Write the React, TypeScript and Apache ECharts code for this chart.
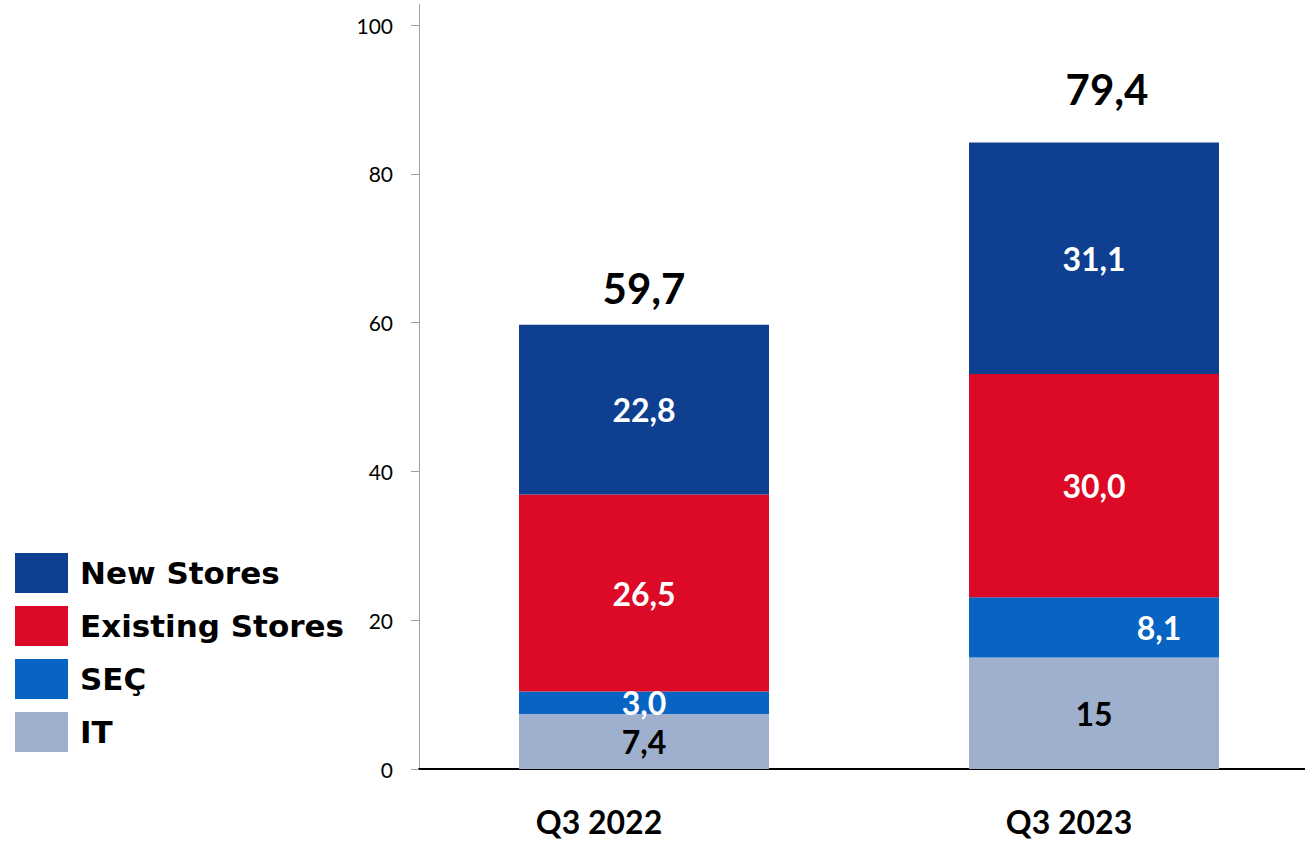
import React, { useEffect, useRef } from "react";
import * as echarts from "echarts";

const categories = ["Q3 2022", "Q3 2023"];
const itValues = [7.4, 15];
const secValues = [3.0, 8.1];
const existingValues = [26.5, 30.0];
const newValues = [22.8, 31.1];
const totalLabels = ["59,7", "79,4"];
const itLabels = ["7,4", "15"];
const yTicks = [0, 20, 40, 60, 80, 100];

const COLORS = {
  newStores: "#0e3f91",
  existing: "#dc0a26",
  sec: "#0764c2",
  it: "#9fb0cf",
};

const fmt = (v: number) => v.toFixed(1).replace(".", ",");

export default function App() {
  const ref = useRef<HTMLDivElement>(null);
  useEffect(() => {
    if (!ref.current) return;
    const chart = echarts.init(ref.current, undefined, { renderer: "svg" });
    const sums = categories.map(
      (_, i) => itValues[i] + secValues[i] + existingValues[i] + newValues[i]
    );
    const totalOffsets = [
      [0, -37],
      [13, -54],
    ];
    const segLabel = (color: string) => ({
      show: true,
      position: "inside",
      color,
      fontFamily: "Lato",
      fontWeight: 700,
      fontSize: 32,
    });
    chart.setOption({
      animation: false,
      backgroundColor: "#fff",
      grid: { left: 419, top: 25, bottom: 72, right: 1, containLabel: false },
      legend: {
        orient: "vertical",
        left: 10,
        top: 548,
        itemWidth: 53,
        itemHeight: 40,
        itemGap: 13,
        icon: "rect",
        selectedMode: false,
        data: ["New Stores", "Existing Stores", "SEÇ", "IT"],
        textStyle: {
          fontFamily: "DejaVu Sans",
          fontWeight: 700,
          fontSize: 31,
          color: "#000",
          lineHeight: 40,
          padding: [0, 0, 0, 7],
        },
      },
      xAxis: {
        type: "category",
        data: categories.map((c, i) => ({
          value: c,
          textStyle: { padding: [0, i === 0 ? 90 : 50, 0, 0] },
        })),
        axisLine: { show: true, lineStyle: { color: "#000", width: 2 } },
        axisTick: { show: false },
        axisLabel: {
          margin: 36,
          fontFamily: "Lato",
          fontWeight: 700,
          fontSize: 32,
          color: "#000",
        },
      },
      yAxis: {
        type: "value",
        min: yTicks[0],
        max: yTicks[yTicks.length - 1],
        interval: 20,
        splitLine: { show: false },
        axisLine: { show: true, lineStyle: { color: "#a0a0a0", width: 1 } },
        axisTick: { show: true, length: 8, lineStyle: { color: "#a0a0a0" } },
        axisLabel: {
          margin: 26,
          fontFamily: "Lato",
          fontSize: 21,
          color: "#000",
        },
      },
      graphic: [
        {
          type: "line",
          shape: { x1: 419.5, y1: 4, x2: 419.5, y2: 25 },
          style: { stroke: "#a0a0a0", lineWidth: 1 },
        },
      ],
      series: [
        {
          name: "IT",
          type: "bar",
          stack: "s",
          barWidth: 250,
          data: itValues,
          itemStyle: { color: COLORS.it },
          label: {
            ...segLabel("#000"),
            formatter: (p: any) => itLabels[p.dataIndex],
          },
        },
        {
          name: "SEÇ",
          type: "bar",
          stack: "s",
          barWidth: 250,
          data: secValues.map((v, i) =>
            i === 1 ? { value: v, label: { offset: [65, 0] } } : v
          ),
          itemStyle: { color: COLORS.sec },
          label: { ...segLabel("#fff"), formatter: (p: any) => fmt(p.value) },
        },
        {
          name: "Existing Stores",
          type: "bar",
          stack: "s",
          barWidth: 250,
          data: existingValues,
          itemStyle: { color: COLORS.existing },
          label: { ...segLabel("#fff"), formatter: (p: any) => fmt(p.value) },
        },
        {
          name: "New Stores",
          type: "bar",
          stack: "s",
          barWidth: 250,
          data: newValues,
          itemStyle: { color: COLORS.newStores },
          label: { ...segLabel("#fff"), formatter: (p: any) => fmt(p.value) },
        },
        {
          name: "totals",
          type: "scatter",
          symbolSize: 0,
          itemStyle: { color: "#000", opacity: 1 },
          data: sums.map((s, i) => ({
            value: s,
            label: { offset: totalOffsets[i] },
          })),
          label: {
            show: true,
            position: "inside",
            fontFamily: "Lato",
            fontWeight: 700,
            fontSize: 42,
            color: "#000",
            textBorderWidth: 0,
            formatter: (p: any) => totalLabels[p.dataIndex],
          },
          z: 10,
        },
      ],
    });
    return () => chart.dispose();
  }, []);
  return (
    <div
      ref={ref}
      style={{ position: "fixed", left: 0, top: 0, width: 1320, height: 841 }}
    />
  );
}
